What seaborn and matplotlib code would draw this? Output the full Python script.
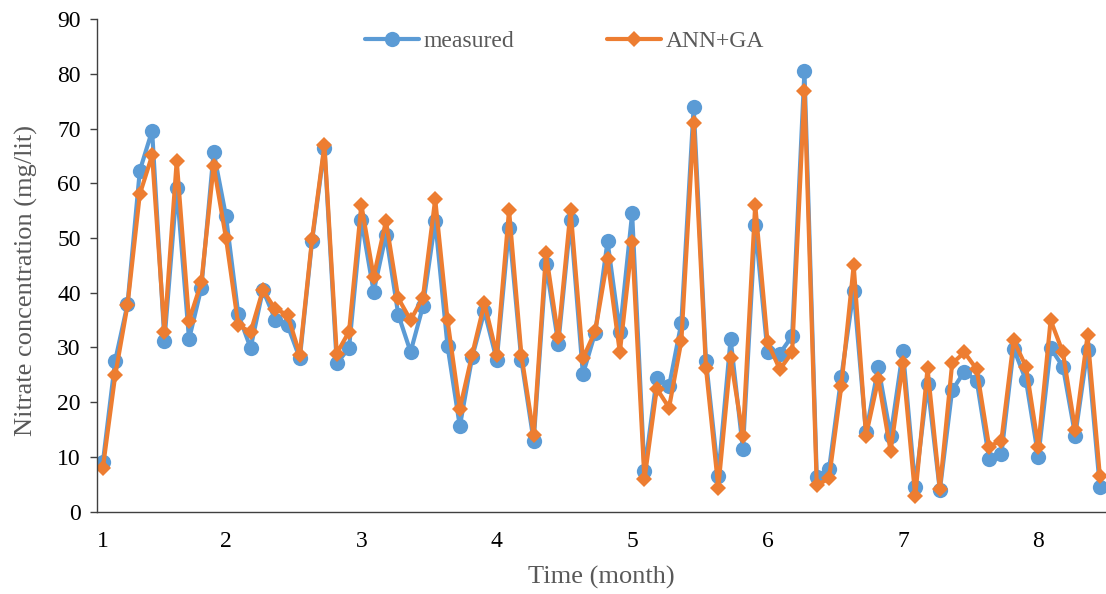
import matplotlib
matplotlib.use("Agg")
import matplotlib.pyplot as plt
import seaborn as sns
import numpy as np
import pandas as pd

# measured vs. ANN+GA nitrate values, one sample every 1/11 month
time = 1 + np.arange(1, 83) / 11
measured = [9.0, 27.6, 37.9, 62.3, 69.6, 31.2, 59.2, 31.5, 40.9, 65.7,
            54.0, 36.1, 29.9, 40.5, 35.1, 34.1, 28.0, 49.5, 66.5, 27.1,
            29.9, 53.3, 40.2, 50.6, 36.0, 29.2, 37.5, 53.1, 30.3, 15.6,
            28.2, 36.6, 27.7, 51.9, 27.7, 12.9, 45.2, 30.7, 53.2, 25.1,
            32.7, 49.4, 32.8, 54.5, 7.4, 24.4, 22.9, 34.5, 74.0, 27.6,
            6.6, 31.6, 11.4, 52.3, 29.1, 28.9, 32.1, 80.5, 6.4, 7.8,
            24.7, 40.4, 14.5, 26.4, 13.9, 29.4, 4.6, 23.3, 3.9, 22.2,
            25.6, 23.9, 9.7, 10.5, 29.8, 24.0, 10.0, 29.9, 26.5, 13.9,
            29.6, 4.5]
ann_ga = [8.0, 24.9, 37.7, 58.0, 65.1, 32.9, 64.1, 34.9, 41.9, 63.2,
          50.0, 34.1, 32.8, 40.5, 37.0, 36.0, 28.7, 49.9, 67.0, 28.9,
          32.9, 56.1, 42.9, 53.1, 39.0, 35.0, 39.1, 57.1, 35.0, 18.8,
          28.7, 38.1, 28.7, 55.1, 28.7, 14.0, 47.2, 31.9, 55.1, 28.0,
          33.0, 46.1, 29.1, 49.2, 5.9, 22.5, 19.0, 31.2, 71.0, 26.2,
          4.4, 28.0, 13.9, 56.1, 31.0, 26.0, 29.1, 76.9, 4.8, 6.1,
          23.0, 45.0, 13.9, 24.2, 11.1, 27.1, 2.8, 26.2, 4.2, 27.1,
          29.1, 26.0, 11.9, 13.0, 31.3, 26.5, 11.9, 35.0, 29.1, 14.9,
          32.2, 6.6]
month_labels = ['1', '2', '3', '4', '5', '6', '7', '8']

df = pd.DataFrame({'time': time, 'measured': measured, 'ANN+GA': ann_ga})

sns.set_theme(style="white")
plt.rcParams['font.family'] = ['Liberation Serif', 'DejaVu Serif']

blue = '#5B9BD5'
orange = '#ED7D31'
grey = '#595959'

fig = plt.figure(figsize=(11.06, 5.94), dpi=100)
ax = fig.add_axes([0.0874, 0.1385, 0.9126, 0.8295])

sns.lineplot(data=df, x='time', y='measured', ax=ax, color=blue, lw=3,
             marker='o', markersize=11, markeredgewidth=0, label='measured')
sns.lineplot(data=df, x='time', y='ANN+GA', ax=ax, color=orange, lw=3,
             marker='D', markersize=8.5, markeredgewidth=0, label='ANN+GA')

ax.set_ylim(0, 90)
ax.set_yticks(range(0, 91, 10))
ax.set_xlim(1.045, 8.5)
# Excel puts the first label on the first sample
ax.set_xticks([time[0]] + list(range(2, 9)))
ax.set_xticklabels(month_labels)

ax.tick_params(axis='y', direction='out', length=5, width=1, color='#404040',
               pad=6.5, labelsize=17, labelcolor='black', left=True)
ax.tick_params(axis='x', length=0, pad=14, labelsize=17, labelcolor='black')

ax.set_xlabel('Time (month)', fontsize=19, color=grey, labelpad=10)
ax.set_ylabel('Nitrate concentration (mg/lit)', fontsize=19, color=grey, labelpad=8)
ax.yaxis.set_label_coords(-0.058, 0.47)

sns.despine(ax=ax)
for side in ['left', 'bottom']:
    ax.spines[side].set_color('#404040')
    ax.spines[side].set_linewidth(1)

ax.legend(loc='center', bbox_to_anchor=(0.4635, 0.955), ncol=2, frameon=False,
          fontsize=17, handlelength=2.3, handletextpad=0.2, columnspacing=3.9,
          labelcolor=grey)

fig.savefig('out.png', dpi=100)
